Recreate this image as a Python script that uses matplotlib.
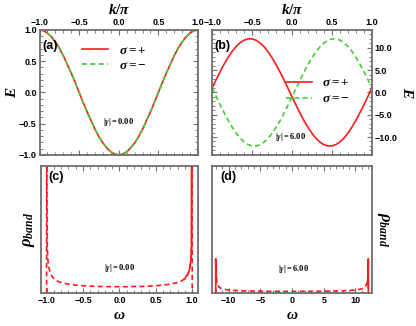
import numpy as np
import matplotlib
matplotlib.use("Agg")
import matplotlib.pyplot as plt
from matplotlib.ticker import MultipleLocator, FuncFormatter

plt.rcParams['font.family'] = ['Liberation Sans', 'DejaVu Sans']
plt.rcParams['font.weight'] = 'bold'
plt.rcParams['mathtext.fontset'] = 'custom'
plt.rcParams['mathtext.rm'] = 'Liberation Serif:bold'
plt.rcParams['mathtext.it'] = 'Liberation Serif:italic:bold'
plt.rcParams['mathtext.bf'] = 'Liberation Serif:bold'

# k/pi grid for the band panels
k = [-1.00, -0.95, -0.90, -0.85, -0.80, -0.75, -0.70, -0.65, -0.60, -0.55, -0.50,
     -0.45, -0.40, -0.35, -0.30, -0.25, -0.20, -0.15, -0.10, -0.05, 0.00,
     0.05, 0.10, 0.15, 0.20, 0.25, 0.30, 0.35, 0.40, 0.45, 0.50,
     0.55, 0.60, 0.65, 0.70, 0.75, 0.80, 0.85, 0.90, 0.95, 1.00]

# (a) |gamma| = 0, both spins identical
E_a = [1.00, 0.99, 0.95, 0.89, 0.81, 0.71, 0.59, 0.45, 0.31, 0.16, 0.00,
       -0.16, -0.31, -0.45, -0.59, -0.71, -0.81, -0.89, -0.95, -0.99, -1.00,
       -0.99, -0.95, -0.89, -0.81, -0.71, -0.59, -0.45, -0.31, -0.16, 0.00,
       0.16, 0.31, 0.45, 0.59, 0.71, 0.81, 0.89, 0.95, 0.99, 1.00]

# (b) |gamma| = 6
E_b_plus = [1.00, 2.87, 4.66, 6.34, 7.86, 9.19, 10.30, 11.15, 11.72, 12.01, 12.00,
            11.70, 11.10, 10.24, 9.12, 7.78, 6.24, 4.56, 2.76, 0.89, -1.00,
            -2.87, -4.66, -6.34, -7.86, -9.19, -10.30, -11.15, -11.72, -12.01, -12.00,
            -11.70, -11.10, -10.24, -9.12, -7.78, -6.24, -4.56, -2.76, -0.89, 1.00]
E_b_minus = [1.00, -0.89, -2.76, -4.56, -6.24, -7.78, -9.12, -10.24, -11.10, -11.70, -12.00,
             -12.01, -11.72, -11.15, -10.30, -9.19, -7.86, -6.34, -4.66, -2.87, -1.00,
             0.89, 2.76, 4.56, 6.24, 7.78, 9.12, 10.24, 11.10, 11.70, 12.00,
             12.01, 11.72, 11.15, 10.30, 9.19, 7.86, 6.34, 4.66, 2.87, 1.00]

# (c) density of states, |gamma| = 0
w_c = [-1.00, -1.00, -0.99, -0.98, -0.97, -0.95, -0.92, -0.90, -0.85, -0.80, -0.70,
       -0.60, -0.50, -0.40, -0.30, -0.20, -0.10, 0.00, 0.10, 0.20, 0.30, 0.40,
       0.50, 0.60, 0.70, 0.80, 0.85, 0.90, 0.92, 0.95, 0.97, 0.98, 0.99, 1.00, 1.00]
rho_c = [0.00, 8.00, 2.25, 1.61, 1.31, 1.02, 0.81, 0.73, 0.60, 0.53, 0.45,
         0.40, 0.37, 0.35, 0.33, 0.33, 0.32, 0.32, 0.32, 0.33, 0.33, 0.35,
         0.37, 0.40, 0.45, 0.53, 0.60, 0.73, 0.81, 1.02, 1.31, 1.61, 2.25, 8.00, 0.00]
w_c_edge = [0.90, 0.95, 0.97, 0.98, 0.99, 0.99]
rho_c_edge = [0.73, 1.02, 1.31, 1.61, 2.25, 8.00]

# (d) density of states, |gamma| = 6
w_d = [-12.04, -12.00, -11.90, -11.50, -11.00, -10.00, -8.00, -6.00, -4.00, -2.00, 0.00,
       2.00, 4.00, 6.00, 8.00, 10.00, 11.00, 11.50, 11.90, 12.00, 12.04]
rho_d = [0.00, 0.32, 0.17, 0.09, 0.065, 0.048, 0.035, 0.031, 0.028, 0.027, 0.026,
         0.027, 0.028, 0.031, 0.035, 0.048, 0.065, 0.09, 0.17, 0.32, 0.00]
w_d_left = [-12.04, -12.04, -12.00, -11.90]
rho_d_left = [0.00, 0.54, 0.32, 0.17]
w_d_right = [11.90, 12.00, 12.04, 12.04]
rho_d_right = [0.17, 0.32, 0.54, 0.00]

red = '#ff1a1a'
green = '#44cc33'
frame = '#6e6e6e'

fmt1 = FuncFormatter(lambda v, p: ('%.1f' % v).replace('-', '\u2212'))
fmt0 = FuncFormatter(lambda v, p: ('%d' % round(v)).replace('-', '\u2212'))

fig = plt.figure(figsize=(4.16, 3.26), dpi=100)
ax_a = fig.add_axes([0.095, 0.525, 0.381, 0.383])
ax_b = fig.add_axes([0.510, 0.525, 0.384, 0.383])
ax_c = fig.add_axes([0.098, 0.101, 0.378, 0.390])
ax_d = fig.add_axes([0.510, 0.101, 0.384, 0.390])

for ax in (ax_a, ax_b, ax_c, ax_d):
    for s in ax.spines.values():
        s.set_color(frame)
        s.set_linewidth(1.3)
    ax.tick_params(which='both', direction='in', color=frame, labelsize=6.5, pad=2)
    ax.tick_params(which='major', length=3.5, width=0.8)
    ax.tick_params(which='minor', length=2, width=0.6)

lab = dict(fontsize=11)

# (a)
ax_a.plot(k, E_a, color=red, lw=1.2, label=r'$\sigma = +$')
ax_a.plot(k, E_a, color=green, lw=1.2, ls=(0, (3, 2)), label=r'$\sigma = -$')
ax_a.set_xlim(-1, 1)
ax_a.set_ylim(-1, 1)
ax_a.xaxis.set_major_locator(MultipleLocator(0.5))
ax_a.xaxis.set_minor_locator(MultipleLocator(0.1))
ax_a.yaxis.set_major_locator(MultipleLocator(0.5))
ax_a.yaxis.set_minor_locator(MultipleLocator(0.1))
ax_a.xaxis.set_major_formatter(fmt1)
ax_a.yaxis.set_major_formatter(fmt1)
ax_a.tick_params(axis='x', which='both', top=True, bottom=True, labeltop=True, labelbottom=False)
ax_a.tick_params(axis='y', which='both', left=True, right=True)
ax_a.xaxis.set_label_position('top')
ax_a.set_xlabel(r'$k/\pi$', labelpad=3, **lab)
ax_a.set_ylabel(r'$E$', labelpad=0, **lab)
ax_a.legend(loc='upper right', bbox_to_anchor=(0.74, 0.97), frameon=False, fontsize=9.5,
            handlelength=2.0, handletextpad=0.8, labelspacing=0.25, borderpad=0.3)
ax_a.text(0.015, 0.87, '(a)', transform=ax_a.transAxes, fontsize=9, fontweight='bold', va='center')
ax_a.text(0.5, 0.26, r'$|\gamma| = 0.00$', transform=ax_a.transAxes, fontsize=6, ha='center', va='center')

# (b)
ax_b.plot(k, E_b_plus, color=red, lw=1.2, label=r'$\sigma = +$')
ax_b.plot(k, E_b_minus, color=green, lw=1.2, ls=(0, (3, 2)), label=r'$\sigma = -$')
ax_b.set_xlim(-1, 1)
ax_b.set_ylim(-14, 14)
ax_b.xaxis.set_major_locator(MultipleLocator(0.5))
ax_b.xaxis.set_minor_locator(MultipleLocator(0.1))
ax_b.yaxis.set_major_locator(MultipleLocator(5))
ax_b.yaxis.set_minor_locator(MultipleLocator(1))
ax_b.xaxis.set_major_formatter(fmt1)
ax_b.yaxis.set_major_formatter(fmt1)
ax_b.tick_params(axis='x', which='both', top=True, bottom=True, labeltop=True, labelbottom=False)
ax_b.tick_params(axis='y', which='both', left=True, right=True, labelleft=False, labelright=True)
ax_b.xaxis.set_label_position('top')
ax_b.yaxis.set_label_position('right')
ax_b.set_xlabel(r'$k/\pi$', labelpad=3, **lab)
ax_b.set_ylabel(r'$E$', rotation=270, labelpad=12, **lab)
ax_b.legend(loc='center right', bbox_to_anchor=(0.93, 0.51), frameon=False, fontsize=9.5,
            handlelength=2.0, handletextpad=0.8, labelspacing=0.3, borderpad=0.3)
ax_b.text(0.015, 0.87, '(b)', transform=ax_b.transAxes, fontsize=9, fontweight='bold', va='center')
ax_b.text(0.49, 0.14, r'$|\gamma| = 6.00$', transform=ax_b.transAxes, fontsize=6, ha='center', va='center')

# (c)
ax_c.plot(w_c_edge, rho_c_edge, color=red, lw=1.2)
ax_c.plot(w_c, rho_c, color=red, lw=1.2, ls=(0, (3, 2)))
ax_c.set_xlim(-1.08, 1.08)
ax_c.set_ylim(0, 6.4)
ax_c.xaxis.set_major_locator(MultipleLocator(0.5))
ax_c.xaxis.set_minor_locator(MultipleLocator(0.1))
ax_c.xaxis.set_major_formatter(fmt1)
ax_c.tick_params(axis='x', which='both', top=True, bottom=True)
ax_c.set_yticks([])
ax_c.set_xlabel(r'$\omega$', labelpad=2, **lab)
ax_c.set_ylabel(r'$\rho_{band}$', labelpad=3, fontsize=12)
ax_c.text(0.05, 0.91, '(c)', transform=ax_c.transAxes, fontsize=9, fontweight='bold', va='center')
ax_c.text(0.5, 0.2, r'$|\gamma| = 0.00$', transform=ax_c.transAxes, fontsize=6, ha='center', va='center')

# (d)
ax_d.plot(w_d_left, rho_d_left, color=red, lw=1.2)
ax_d.plot(w_d_right, rho_d_right, color=red, lw=1.2)
ax_d.plot(w_d, rho_d, color=red, lw=1.2, ls=(0, (3, 2)))
ax_d.set_xlim(-12.6, 12.6)
ax_d.set_ylim(0, 2.0)
ax_d.xaxis.set_major_locator(MultipleLocator(5))
ax_d.xaxis.set_minor_locator(MultipleLocator(1))
ax_d.xaxis.set_major_formatter(fmt0)
ax_d.tick_params(axis='x', which='both', top=True, bottom=True)
ax_d.set_yticks([])
ax_d.yaxis.set_label_position('right')
ax_d.set_xlabel(r'$\omega$', labelpad=2, **lab)
ax_d.set_ylabel(r'$\rho_{band}$', rotation=270, labelpad=14, fontsize=12)
ax_d.text(0.05, 0.91, '(d)', transform=ax_d.transAxes, fontsize=9, fontweight='bold', va='center')
ax_d.text(0.51, 0.19, r'$|\gamma| = 6.00$', transform=ax_d.transAxes, fontsize=6, ha='center', va='center')

fig.savefig('out.png', dpi=100)
